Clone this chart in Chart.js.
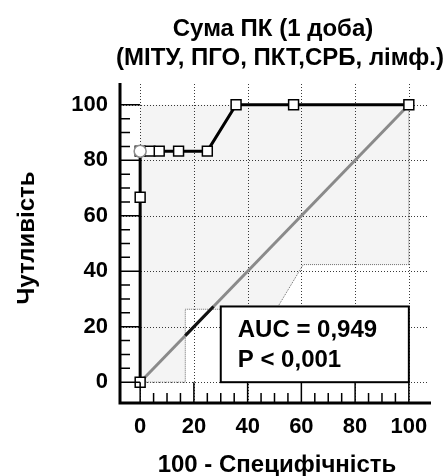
<!DOCTYPE html>
<html>
<head>
<meta charset="utf-8">
<script src="https://cdn.jsdelivr.net/npm/chart.js@4.4.1/dist/chart.umd.min.js"></script>
<style>
  body { margin: 0; background: #fff; }
  #wrap { width: 448px; height: 476px; }
</style>
</head>
<body>
<div id="wrap"><canvas id="roc" width="448" height="476"></canvas></div>
<script>
// ROC curve points (100 - specificity, sensitivity)
const rocX = [0, 0, 0, 3.6, 7.1, 14.3, 25, 35.7, 57.1, 100];
const rocY = [0, 66.7, 83.3, 83.3, 83.3, 83.3, 83.3, 100, 100, 100];
// optimal cut-off point
const cutX = [0];
const cutY = [83.3];
// confidence band
const ciUpX = [0, 0, 100];
const ciUpY = [0, 100, 100];
const ciLowX = [0, 16.8, 16.8, 50.7, 60.7, 100, 100];
const ciLowY = [0, 0, 26.3, 26.3, 42.4, 42.4, 100];
// reference diagonal (and the darker bit of it outside the band)
const diagX = [0, 100];
const diagY = [0, 100];
const diagDarkX = [16.8, 27.3];
const diagDarkY = [16.8, 27.3];
// ticks
const xTicks = [0, 20, 40, 60, 80, 100];
const yTicks = [0, 20, 40, 60, 80, 100];

const titleLines = ['Сума ПК (1 доба)', '(МІТУ, ПГО, ПКТ,СРБ, лімф.)'];
const xTitle = '100 - Специфічність';
const yTitle = 'Чутливість';
const statLines = ['AUC = 0,949', 'P < 0,001'];

const FONT = '"Liberation Sans", Arial, sans-serif';

function pts(xs, ys) {
  return xs.map((v, i) => ({x: v, y: ys[i]}));
}

// closed band polygon: upper edge, then lower edge backwards
const bandPts = pts(ciUpX, ciUpY).concat(pts(ciLowX, ciLowY).reverse());

const decor = {
  id: 'decor',
  beforeDatasetsDraw(chart) {
    // dotted grid
    const ctx = chart.ctx;
    const x = chart.scales.x, y = chart.scales.y;
    const a = chart.chartArea;
    ctx.save();
    ctx.strokeStyle = '#3a3a3a';
    ctx.lineWidth = 1;
    ctx.setLineDash([1, 2]);
    ctx.beginPath();
    xTicks.forEach(v => {
      const px = Math.round(x.getPixelForValue(v)) + 0.5;
      ctx.moveTo(px, a.top);
      ctx.lineTo(px, a.bottom);
    });
    yTicks.forEach(v => {
      const py = Math.round(y.getPixelForValue(v)) + 0.5;
      ctx.moveTo(a.left, py);
      ctx.lineTo(a.right, py);
    });
    ctx.stroke();
    ctx.restore();
  },
  afterDatasetsDraw(chart) {
    const ctx = chart.ctx;
    const x = chart.scales.x, y = chart.scales.y;
    const a = chart.chartArea;
    const x0 = x.getPixelForValue(0), y0 = y.getPixelForValue(0);
    ctx.save();

    // stats box
    const bl = x.getPixelForValue(30), br = x.getPixelForValue(100);
    const bt = y.getPixelForValue(27.3), bb = y.getPixelForValue(0);
    ctx.fillStyle = '#fff';
    ctx.fillRect(bl, bt, br - bl, bb - bt);
    ctx.strokeStyle = '#000';
    ctx.lineWidth = 2;
    ctx.strokeRect(bl, bt, br - bl, bb - bt);
    ctx.fillStyle = '#000';
    ctx.font = 'bold 24px ' + FONT;
    ctx.textAlign = 'left';
    ctx.textBaseline = 'alphabetic';
    ctx.fillText(statLines[0], bl + 17, bt + 31);
    ctx.fillText(statLines[1], bl + 17, bt + 61);

    // axes
    ctx.lineWidth = 3;
    ctx.beginPath();
    ctx.moveTo(a.left, a.top - 1);
    ctx.lineTo(a.left, a.bottom);
    ctx.lineTo(a.right + 2, a.bottom);
    ctx.stroke();

    // tick marks, pointing inwards
    ctx.lineWidth = 1.5;
    ctx.beginPath();
    for (let v = 0; v <= 100; v += 5) {
      const major = v % 20 === 0;
      const px = x.getPixelForValue(v);
      ctx.moveTo(px, a.bottom);
      ctx.lineTo(px, major ? y0 : a.bottom - 10);
      const py = y.getPixelForValue(v);
      ctx.moveTo(a.left, py);
      ctx.lineTo(major ? x0 : a.left + 10, py);
    }
    ctx.stroke();

    // titles
    ctx.font = 'bold 24px ' + FONT;
    ctx.textAlign = 'center';
    ctx.fillText(titleLines[0], 273, 36);
    ctx.fillText(titleLines[1], 280, 65);

    ctx.fillText(xTitle, 277, 472);

    ctx.translate(34, 238);
    ctx.rotate(-Math.PI / 2);
    ctx.fillText(yTitle, 0, 0);
    ctx.restore();
  }
};

new Chart(document.getElementById('roc'), {
  type: 'scatter',
  data: {
    datasets: [
      {
        label: 'cut-off',
        data: pts(cutX, cutY),
        order: 0,
        showLine: false,
        pointStyle: 'circle',
        pointRadius: 6,
        pointBackgroundColor: '#fff',
        pointBorderColor: '#8c8c8c',
        pointBorderWidth: 1.5
      },
      {
        label: 'ROC',
        data: pts(rocX, rocY),
        order: 1,
        showLine: true,
        borderColor: '#000',
        borderWidth: 3,
        pointStyle: 'rect',
        pointRadius: 7,
        pointBackgroundColor: '#fff',
        pointBorderColor: '#000',
        pointBorderWidth: 1.5
      },
      {
        label: 'diagonal dark',
        data: pts(diagDarkX, diagDarkY),
        order: 2,
        showLine: true,
        borderColor: '#111',
        borderWidth: 3,
        pointRadius: 0
      },
      {
        label: 'diagonal',
        data: pts(diagX, diagY),
        order: 3,
        showLine: true,
        borderColor: '#8a8a8a',
        borderWidth: 3,
        pointRadius: 0
      },
      {
        label: 'CI lower',
        data: pts(ciLowX, ciLowY),
        order: 4,
        showLine: true,
        borderColor: '#6a6a6a',
        borderWidth: 1,
        borderDash: [1, 1],
        pointRadius: 0
      },
      {
        label: 'CI band',
        data: bandPts,
        order: 5,
        showLine: true,
        fill: 'shape',
        backgroundColor: 'rgba(0,0,0,0.045)',
        borderWidth: 0,
        borderColor: 'rgba(0,0,0,0)',
        pointRadius: 0
      }
    ]
  },
  options: {
    responsive: false,
    animation: false,
    layout: { padding: { top: 84, right: 19, left: 0, bottom: 0 } },
    plugins: { legend: { display: false }, tooltip: { enabled: false } },
    scales: {
      x: {
        type: 'linear',
        min: -7.5,
        max: 107.5,
        afterBuildTicks: s => { s.ticks = xTicks.map(v => ({value: v})); },
        afterFit: s => { s.height = 73; },
        grid: { display: false, drawTicks: false },
        border: { display: false },
        ticks: {
          padding: 11,
          color: '#000',
          font: { family: FONT, size: 22, weight: 'bold' },
          maxRotation: 0
        }
      },
      y: {
        type: 'linear',
        min: -7.5,
        max: 107.5,
        afterBuildTicks: s => { s.ticks = yTicks.map(v => ({value: v})); },
        afterFit: s => { s.width = 120; },
        grid: { display: false, drawTicks: false },
        border: { display: false },
        ticks: {
          padding: 12,
          color: '#000',
          font: { family: FONT, size: 22, weight: 'bold' }
        }
      }
    }
  },
  plugins: [decor]
});
</script>
</body>
</html>
